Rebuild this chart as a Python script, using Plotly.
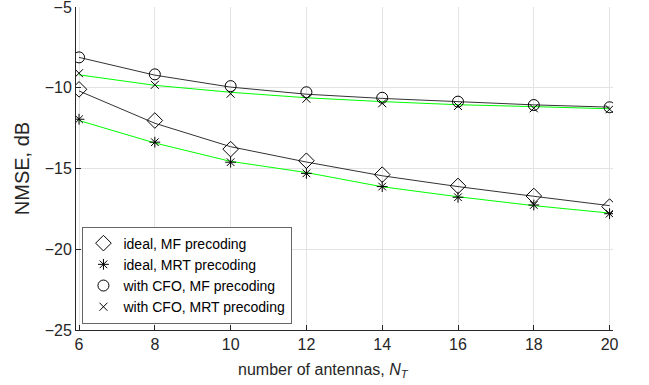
import plotly.graph_objects as go

n_antennas = [6, 8, 10, 12, 14, 16, 18, 20]

# analytical curves (lines)
line_ideal_mf = [-10.2, -12.2, -13.65, -14.6, -15.45, -16.12, -16.72, -17.3]
line_ideal_mrt = [-12.03, -13.42, -14.56, -15.25, -16.13, -16.75, -17.3, -17.76]
line_cfo_mf = [-8.12, -9.22, -9.96, -10.4, -10.66, -10.88, -11.06, -11.2]
line_cfo_mrt = [-9.2, -9.85, -10.28, -10.62, -10.86, -11.05, -11.17, -11.3]

# simulated points (markers)
sim_ideal_mf = [-10.1, -12.03, -13.8, -14.52, -15.38, -16.08, -16.7, -17.36]
sim_ideal_mrt = [-11.95, -13.37, -14.61, -15.3, -16.12, -16.78, -17.26, -17.8]
sim_cfo_mf = [-8.12, -9.17, -9.9, -10.28, -10.62, -10.86, -11.07, -11.21]
sim_cfo_mrt = [-9.1, -9.82, -10.37, -10.68, -10.96, -11.13, -11.27, -11.33]

labels = ["ideal, MF precoding", "ideal, MRT precoding",
          "with CFO, MF precoding", "with CFO, MRT precoding"]
x_ticks = [6, 8, 10, 12, 14, 16, 18, 20]
y_ticks = [-25, -20, -15, -10, -5]

fig = go.Figure()

for ys, col in [(line_ideal_mf, "#333333"), (line_ideal_mrt, "#00ff00"),
                (line_cfo_mf, "#333333"), (line_cfo_mrt, "#00ff00")]:
    fig.add_trace(go.Scatter(x=n_antennas, y=ys, mode="lines",
                             line=dict(color=col, width=1), showlegend=False,
                             hoverinfo="skip"))

markers = [("diamond-open", 12), ("asterisk-open", 9),
           ("circle-open", 11), ("x-thin-open", 8)]
for ys, lab, (sym, sz) in zip([sim_ideal_mf, sim_ideal_mrt, sim_cfo_mf, sim_cfo_mrt],
                              labels, markers):
    fig.add_trace(go.Scatter(x=n_antennas, y=ys, mode="markers", name=lab,
                             marker=dict(symbol=sym, size=sz, color="black",
                                         line=dict(color="black", width=1))))

font = "Liberation Sans, Arial, sans-serif"
fig.update_layout(
    width=649, height=385,
    margin=dict(l=76, r=36, t=7, b=55, autoexpand=False),
    paper_bgcolor="white", plot_bgcolor="white",
    font=dict(family=font, size=16, color="#262626"),
    showlegend=True,
    legend=dict(x=0.012, y=0.02, xanchor="left", yanchor="bottom",
                bgcolor="white", bordercolor="#666666", borderwidth=1,
                font=dict(size=14, color="black"), tracegroupgap=0,
                itemwidth=30),
    xaxis=dict(range=[5.92, 20.09], tickvals=x_ticks, automargin=False,
               showgrid=True, gridcolor="#e3e3e3", gridwidth=1,
               showline=True, linecolor="#262626", linewidth=1,
               ticks="inside", ticklen=5, tickcolor="#262626",
               zeroline=False, mirror=False, ticklabeloverflow="allow"),
    yaxis=dict(range=[-25, -5], tickvals=y_ticks, automargin=False,
               showgrid=True, gridcolor="#e3e3e3", gridwidth=1,
               showline=True, linecolor="#262626", linewidth=1,
               ticks="inside", ticklen=5, tickcolor="#262626",
               zeroline=False, mirror=False, ticklabeloverflow="allow",
               title=dict(text="NMSE, dB", font=dict(size=20), standoff=9)),
    annotations=[dict(text="number of antennas, <i>N</i><sub><i>T</i></sub>",
                      xref="paper", yref="paper", x=0.461, y=-0.124,
                      xanchor="center", yanchor="middle", showarrow=False,
                      font=dict(size=16, color="#262626"))],
)

fig.write_html("out.html", config={"displayModeBar": False},
               post_script="document.body.style.margin='0';")
